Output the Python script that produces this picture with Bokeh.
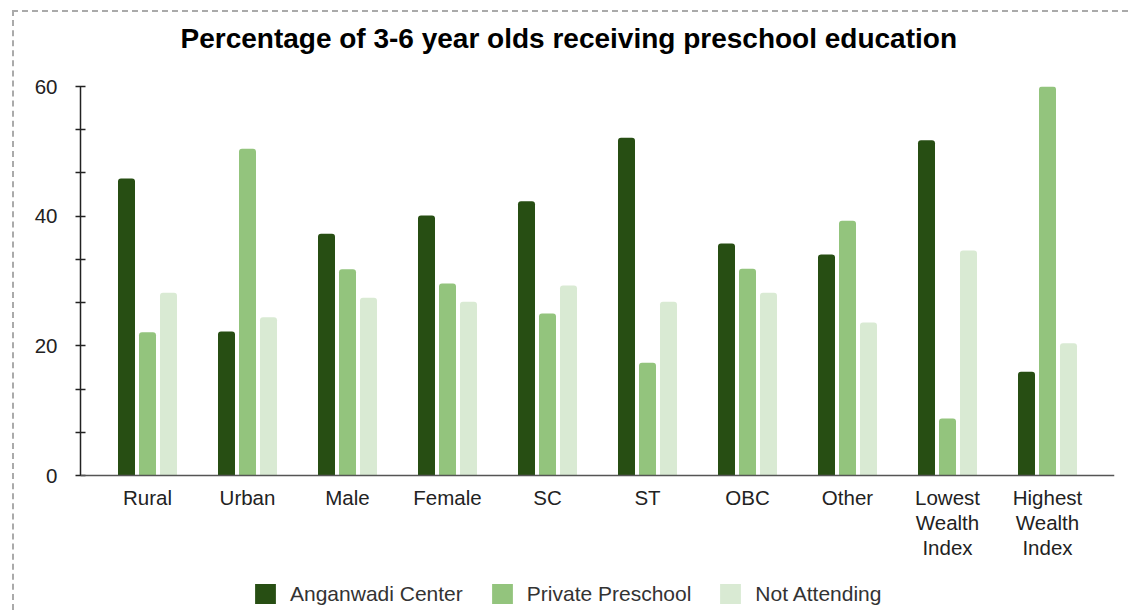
from bokeh.plotting import figure
from bokeh.models import (FactorRange, Legend, LegendItem, ColumnDataSource,
                          SingleIntervalTicker, Title, Span)
from bokeh.core.properties import value
from bokeh.transform import dodge
from bokeh.embed import file_html
from bokeh.resources import INLINE

categories = ["Rural", "Urban", "Male", "Female", "SC", "ST", "OBC", "Other",
              "Lowest\nWealth\nIndex", "Highest\nWealth\nIndex"]
series_names = ["Anganwadi Center", "Private Preschool", "Not Attending"]
anganwadi = [45.8, 22.2, 37.3, 40.1, 42.3, 52.1, 35.8, 34.1, 51.7, 16.0]
private = [22.1, 50.4, 31.8, 29.6, 25.0, 17.4, 31.9, 39.3, 8.8, 60.0]
not_attending = [28.2, 24.4, 27.4, 26.8, 29.3, 26.8, 28.2, 23.6, 34.7, 20.4]
y_max = 60
y_tick_interval = 20
chart_title = "Percentage of 3-6 year olds receiving preschool education"

colors = ["#274e13", "#93c47d", "#d9ead3"]
FONT = "Liberation Sans"

# layout (pixels)
PLOT_H = 389          # height of the value area (0..60)
BELOW_H = 135         # space under the baseline for labels and legend
y_min = -y_max * BELOW_H / PLOT_H

source = ColumnDataSource(dict(cat=categories, a=anganwadi, p=private, n=not_attending,
                               base=[0] * len(categories)))

x_range = FactorRange(factors=categories, range_padding=0.17, range_padding_units="absolute")

p = figure(x_range=x_range, y_range=(y_min, y_max),
           frame_width=1034, frame_height=PLOT_H + BELOW_H,
           min_border_left=66, min_border_right=14, min_border_top=74, min_border_bottom=0,
           output_backend="svg", toolbar_location=None, title=None,
           margin=(10, 0, 0, 12),
           styles={"border-left": "2px dashed #aaaaaa", "border-top": "2px dashed #aaaaaa"})

# spacer between frame and title (closest to the frame)
spacer = Title(text=" ", text_font=FONT, text_font_size="10px", standoff=11)
p.add_layout(spacer, "above")
title = Title(text=chart_title, text_font=FONT, text_font_size="28px",
              text_font_style="bold", text_color="#000000",
              align="left", offset=100, standoff=17)
p.add_layout(title, "above")

p.outline_line_color = None
p.grid.visible = False
p.background_fill_color = "white"
p.border_fill_color = "white"

renderers = []
for col, off, color in zip(["a", "p", "n"], [-0.21, 0.0, 0.21], colors):
    r = p.vbar(x=dodge("cat", off, range=p.x_range), top=col, width=0.17, bottom=0,
               source=source, fill_color=color, line_color=None,
               border_radius=(3, 3, 0, 0))
    renderers.append(r)

# y axis
p.yaxis.bounds = (0, y_max)
p.yaxis.ticker = SingleIntervalTicker(interval=y_tick_interval, num_minor_ticks=3)
p.yaxis.major_tick_out = 0
p.yaxis.major_tick_in = 0
p.yaxis.minor_tick_in = 5
p.yaxis.minor_tick_out = 5
p.yaxis.minor_tick_line_color = "#222222"
p.yaxis.minor_tick_line_width = 1.5
p.yaxis.axis_line_color = "#222222"
p.yaxis.axis_line_width = 1.5
p.yaxis.major_label_standoff = 18
p.yaxis.major_label_text_font = FONT
p.yaxis.major_label_text_font_size = "20.5px"
p.yaxis.major_label_text_color = "#222222"

# x axis: baseline + category labels
p.xaxis.visible = False
p.add_layout(Span(location=0, dimension="width", line_color="#555555", line_width=1.5))
p.text(x="cat", y="base", text="cat", source=source, y_offset=10,
       text_align="center", text_baseline="top",
       text_font=value(FONT), text_font_size="20.5px", text_color="#222222",
       text_line_height=1.09)

items = [LegendItem(label=n, renderers=[r]) for n, r in zip(series_names, renderers)]
legend = Legend(items=items, orientation="horizontal", location=(172, 4),
                padding=0, margin=0, spacing=26, label_standoff=12,
                glyph_width=26, glyph_height=25,
                label_text_font=FONT, label_text_font_size="21px",
                label_text_color="#333333",
                border_line_color=None, background_fill_alpha=0)
p.add_layout(legend, "center")

open("out.html", "w").write(file_html(p, INLINE))
